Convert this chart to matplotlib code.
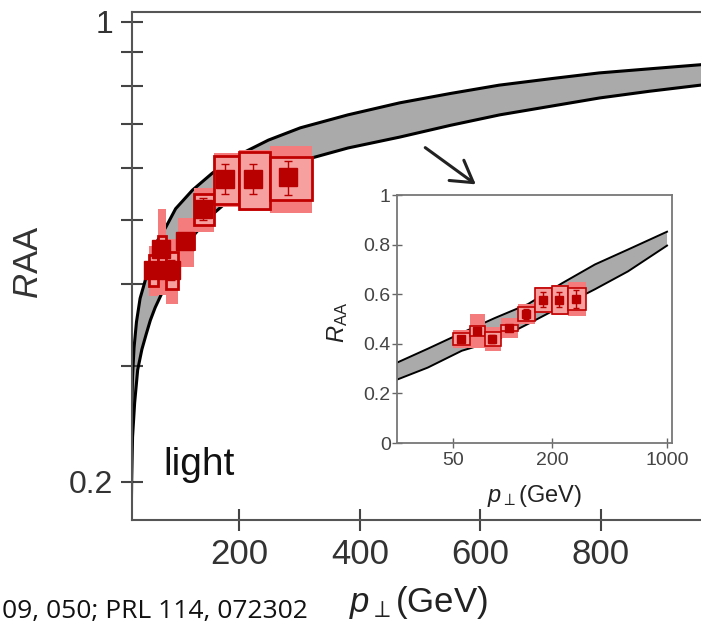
import numpy as np
import matplotlib.pyplot as plt
from matplotlib.ticker import FixedLocator, FixedFormatter, NullLocator
from matplotlib.patches import FancyArrowPatch

plt.rcParams['font.family'] = ['Liberation Sans', 'DejaVu Sans']
plt.rcParams['mathtext.fontset'] = 'custom'
plt.rcParams['mathtext.rm'] = 'Liberation Sans'
plt.rcParams['mathtext.it'] = 'Liberation Sans:italic'

# --- data ---
# measured points: bin edges, centre, R_AA, errors
pt_lo = np.array([50, 64, 78, 98, 124, 158, 200, 250])
pt_hi = np.array([64, 78, 98, 124, 158, 200, 250, 320])
pt = np.array([56, 70, 86, 109, 139, 176, 222, 280])
raa = np.array([0.42, 0.452, 0.42, 0.464, 0.52, 0.577, 0.577, 0.58])
sys_err = np.array([0.023, 0.020, 0.027, 0.013, 0.028, 0.049, 0.058, 0.043])
norm_err = np.array([0.037, 0.068, 0.048, 0.040, 0.040, 0.054, 0.062, 0.068])
stat_err = np.array([0.010, 0.012, 0.015, 0.008, 0.020, 0.030, 0.030, 0.035])

# model band, main panel (linear pT)
up_pt = [20.3, 20.6, 21.2, 22.5, 25, 29, 35, 42, 50, 62, 78, 94, 122, 155,
         198, 248, 301, 380, 466, 550, 631, 720, 797, 880, 970]
up_raa = [0.175, 0.22, 0.26, 0.29, 0.32, 0.35, 0.38, 0.40, 0.425, 0.462,
          0.488, 0.52, 0.555, 0.589, 0.627, 0.661, 0.690, 0.722, 0.753,
          0.778, 0.801, 0.820, 0.836, 0.848, 0.861]
lo_pt = [20.3, 21, 22.5, 26, 31, 38, 45, 52, 60, 70, 85, 100, 125, 150,
         200, 248, 288, 320, 380, 466, 550, 632, 720, 798, 880, 970]
lo_raa = [0.175, 0.2, 0.234, 0.264, 0.296, 0.318, 0.335, 0.352, 0.368,
          0.385, 0.41, 0.435, 0.475, 0.505, 0.553, 0.589, 0.602, 0.621,
          0.643, 0.668, 0.696, 0.722, 0.745, 0.766, 0.784, 0.802]

# model band, inset (log pT)
in_up_pt = [22.2, 35.2, 56.7, 90, 143, 230, 365, 579, 1000]
in_up_raa = [0.32, 0.38, 0.444, 0.504, 0.56, 0.644, 0.72, 0.78, 0.852]
in_lo_pt = [22.2, 35.2, 56.7, 90, 143, 230, 365, 579, 1000]
in_lo_raa = [0.252, 0.304, 0.372, 0.412, 0.48, 0.552, 0.62, 0.692, 0.796]

main_yticks = [0.2, 0.3, 0.4, 0.5, 0.6, 0.7, 0.8, 0.9, 1.0]
main_ylabels = ['0.2', '', '', '', '', '', '', '', '1']
main_xticks = [200, 400, 600, 800]
in_xticks = [50, 200, 1000]
in_yticks = [0, 0.2, 0.4, 0.6, 0.8, 1.0]
in_ylabels = ['0', '0.2', '0.4', '0.6', '0.8', '1']

PINK = '#f47c7c'
BOXFILL = '#f7a0a0'
DARKRED = '#b80000'
BAND = '#aaaaaa'


def draw_band(a, xu, yu, xl, yl, lw):
    a.fill(np.r_[xu, xl[::-1]], np.r_[yu, yl[::-1]], color=BAND, lw=0, zorder=1)
    a.plot(xu, yu, color='k', lw=lw, zorder=2)
    a.plot(xl, yl, color='k', lw=lw, zorder=2)


def draw_data(a, ms, lw, cap):
    a.bar(pt_lo, 2 * norm_err, bottom=raa - norm_err, width=pt_hi - pt_lo,
          align='edge', color=PINK, lw=0, zorder=3)
    a.bar(pt_lo, 2 * sys_err, bottom=raa - sys_err, width=pt_hi - pt_lo,
          align='edge', facecolor=BOXFILL, edgecolor='#c00000', lw=lw, zorder=4)
    a.errorbar(pt, raa, yerr=stat_err, fmt='s', ms=ms, color=DARKRED,
               ecolor=DARKRED, elinewidth=1, capsize=cap, zorder=5)


fig = plt.figure(figsize=(7.01, 6.23), dpi=100)

# ---- main panel
ax = fig.add_axes([131.5 / 701, 1 - 519.5 / 623, 1 - 131.5 / 701, 507.5 / 623])
ax.set_yscale('log')
draw_band(ax, up_pt, up_raa, lo_pt, lo_raa, 2.2)
draw_data(ax, 13, 2, 3)
ax.set_xlim(20.75, 966)
ax.set_ylim(0.1754, 1.0345)

ax.yaxis.set_major_locator(FixedLocator(main_yticks))
ax.yaxis.set_major_formatter(FixedFormatter(main_ylabels))
ax.yaxis.set_minor_locator(NullLocator())
ax.set_xticks(main_xticks)
ax.tick_params(axis='both', direction='inout', length=16, width=1.5,
               color='#444', labelcolor='#333')
ax.tick_params(axis='x', labelsize=25, pad=5)
ax.tick_params(axis='y', labelsize=23, pad=5)
ax.spines['right'].set_visible(False)
for s in ['left', 'top', 'bottom']:
    ax.spines[s].set_color('#555')
    ax.spines[s].set_linewidth(1.5)

ax.set_xlabel(r'$\mathit{p}_{\perp}$(GeV)', fontsize=25, color='#222')
ax.xaxis.set_label_coords(0.503, -0.128)
ax.set_ylabel(r'$\mathit{R}$AA', fontsize=25, color='#333')
ax.yaxis.set_label_coords(-0.152, 0.507)
ax.text(0.0553, 0.0877, 'light', transform=ax.transAxes, fontsize=28,
        va='baseline', color='#111')

# ---- inset
ax2 = fig.add_axes([397 / 701, 1 - 443 / 623, 275 / 701, 248 / 623])
ax2.set_xscale('log')
draw_band(ax2, in_up_pt, in_up_raa, in_lo_pt, in_lo_raa, 1.4)
draw_data(ax2, 6, 1.2, 2)
ax2.set_xlim(22.9, 1072)
ax2.set_ylim(0, 1)
ax2.xaxis.set_major_locator(FixedLocator(in_xticks))
ax2.xaxis.set_major_formatter(FixedFormatter([str(v) for v in in_xticks]))
ax2.xaxis.set_minor_locator(NullLocator())
ax2.yaxis.set_major_locator(FixedLocator(in_yticks))
ax2.yaxis.set_major_formatter(FixedFormatter(in_ylabels))
ax2.tick_params(axis='both', direction='inout', length=7, width=1,
                color='#666', labelcolor='#444', labelsize=14)
ax2.tick_params(axis='y', pad=1)
ax2.tick_params(axis='x', pad=3)
for s in ax2.spines.values():
    s.set_color('#777')
    s.set_linewidth(1.3)
ax2.set_xlabel(r'$\mathit{p}_{\perp}$(GeV)', fontsize=17, color='#222')
ax2.xaxis.set_label_coords(0.5, -0.16)
ax2.set_ylabel(r'$\mathit{R}_{\mathrm{AA}}$', fontsize=17, color='#222')
ax2.yaxis.set_label_coords(-0.171, 0.488)

# arrow pointing at the inset
fig.add_artist(FancyArrowPatch((423 / 701, 1 - 146 / 623), (478 / 701, 1 - 186 / 623),
                               transform=fig.transFigure,
                               arrowstyle='->,head_length=0.5,head_width=0.3',
                               mutation_scale=30, lw=2.2, color='#222'))

fig.text(2 / 701, 1 - 618 / 623, '09, 050; PRL 114, 072302', ha='left', va='baseline',
         fontsize=19, family=['Open Sans', 'DejaVu Sans'], color='#111')

fig.savefig('out.png', dpi=100)
